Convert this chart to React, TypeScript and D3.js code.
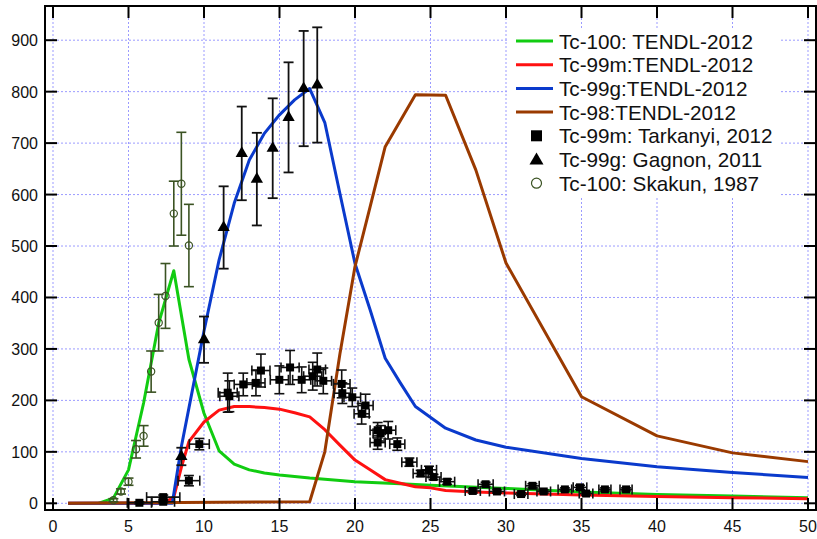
import React, { useEffect, useRef } from 'react';
import * as d3 from 'd3';

// TENDL-2012 curves
const tc100X = [3, 4, 5, 6, 7, 8, 9, 10, 11, 12, 13, 14, 15, 17, 20, 23, 25, 30, 35, 40, 45, 50];
const tc100Y = [0, 10, 65, 195, 350, 452, 280, 175, 102, 76, 65, 59, 55, 49, 42, 38, 35, 29, 22, 17, 14, 11];

const tc99mX = [1, 7, 7.5, 8, 8.5, 9, 10, 11, 12, 13, 14, 15, 16, 17, 18, 19, 20, 21, 22, 23, 24, 25, 26, 28, 30, 35, 40, 45, 50];
const tc99mY = [0, 0, 3, 12, 70, 120, 158, 181, 188, 188, 186, 183, 176, 168, 143, 113, 84, 65, 46, 39, 32, 30, 25, 22, 20, 16, 13, 11, 9];

const tc99gX = [1, 7.9, 8.5, 9, 10, 11, 12, 13, 14, 15, 16, 17, 18, 19, 20, 21, 22, 23, 24, 26, 28, 30, 35, 40, 45, 50];
const tc99gY = [0, 0, 110, 185, 335, 473, 583, 667, 719, 755, 784, 806, 740, 602, 466, 376, 282, 234, 188, 146, 123, 109, 87, 71, 60, 50];

const tc98X = [1, 17, 18, 19, 20, 21, 22, 24, 26, 28, 30, 35, 40, 45, 50];
const tc98Y = [0, 3, 100, 290, 460, 576, 693, 794, 793, 648, 467, 207, 131, 98, 81];

// Tc-99m: Tarkanyi, 2012
const tarkX = [5.72, 7.3, 7.3, 9.0, 9.69, 11.57, 11.68, 12.6, 13.44, 13.77, 14.99, 15.7, 16.47, 17.2, 17.5, 17.9, 19.12, 19.16, 19.82, 20.44, 20.7, 21.5, 21.5, 21.7, 22.2, 22.8, 23.6, 24.35, 24.9, 25.2, 26.1, 27.8, 28.65, 29.4, 31.0, 31.75, 32.5, 33.9, 34.9, 35.3, 36.55, 37.95];
const tarkY = [1, 12, 3, 44, 115, 215, 208, 231, 234, 258, 240, 264, 240, 247, 260, 238, 232, 214, 206, 174, 190, 142, 118, 136, 142, 115, 80, 58, 65, 51, 42, 24, 37, 23, 18, 34, 23, 27, 31, 19, 27, 27];
const tarkXErr = [0.8, 1.1, 0.75, 0.72, 0.66, 0.63, 0.63, 0.6, 0.6, 0.6, 0.6, 0.6, 0.6, 0.6, 0.55, 0.55, 0.55, 0.55, 0.55, 0.5, 0.5, 0.5, 0.5, 0.5, 0.5, 0.5, 0.5, 0.5, 0.5, 0.5, 0.5, 0.5, 0.5, 0.5, 0.45, 0.45, 0.45, 0.45, 0.45, 0.45, 0.4, 0.4];
const tarkYErr = [2, 4, 2, 10, 11, 38, 30, 22, 25, 32, 27, 33, 25, 27, 32, 25, 27, 20, 18, 20, 22, 15, 13, 15, 17, 12, 8, 6, 7, 5, 5, 4, 4, 3, 3, 4, 3, 3, 4, 3, 3, 3];

// Tc-99g: Gagnon, 2011
const gagX = [8.5, 10.0, 11.3, 12.5, 13.5, 14.55, 15.6, 16.6, 17.5];
const gagY = [91, 318, 536, 680, 630, 690, 750, 806, 813];
const gagErr = [17, 45, 80, 91, 90, 97, 107, 112, 112];

// Tc-100: Skakun, 1987
const skakX = [4.0, 4.5, 5.0, 5.5, 6.0, 6.5, 7.0, 7.45, 8.0, 8.5, 9.0];
const skakY = [6, 23, 42, 105, 131, 256, 351, 403, 563, 621, 501];
const skakErr = [3, 5, 7, 17, 20, 40, 55, 63, 63, 100, 80];

const xTicks = [0, 5, 10, 15, 20, 25, 30, 35, 40, 45, 50];
const yTicks = [0, 100, 200, 300, 400, 500, 600, 700, 800, 900];

const curveNames = ['Tc-100: TENDL-2012', 'Tc-99m:TENDL-2012', 'Tc-99g:TENDL-2012', 'Tc-98:TENDL-2012'];
const pointNames = ['Tc-99m: Tarkanyi, 2012', 'Tc-99g: Gagnon, 2011', 'Tc-100: Skakun, 1987'];

export default function App() {
    const ref = useRef<SVGSVGElement>(null);

    useEffect(() => {
        if (!ref.current) return;
        const svg = d3.select(ref.current);
        svg.selectAll('*').remove();

        const W = 817, H = 539;
        const frame = { left: 45, right: 816, top: 6, bottom: 510 };
        const font = 'Liberation Sans, Arial, sans-serif';

        const x = d3.scaleLinear().domain([0, 50]).range([53, 808]);
        const y = d3.scaleLinear().domain([0, 900]).range([503.3, 40.2]);

        svg.append('rect').attr('width', W).attr('height', H).attr('fill', '#fff');

        // grid
        const grid = svg.append('g').attr('stroke', '#9b9bff').attr('stroke-width', 1).attr('stroke-dasharray', '2,2');
        xTicks.forEach(t => {
            grid.append('line').attr('x1', x(t)).attr('x2', x(t)).attr('y1', frame.top).attr('y2', frame.bottom);
        });
        yTicks.forEach(t => {
            grid.append('line').attr('x1', frame.left).attr('x2', frame.right).attr('y1', y(t)).attr('y2', y(t));
        });

        // curves
        const line = d3.line<[number, number]>().x(d => x(d[0])).y(d => y(d[1]));
        const curves = [
            { xs: tc100X, ys: tc100Y, color: '#11cc11' },
            { xs: tc99mX, ys: tc99mY, color: '#ff1111' },
            { xs: tc99gX, ys: tc99gY, color: '#0a3acc' },
            { xs: tc98X, ys: tc98Y, color: '#9a3a00' },
        ];
        curves.forEach(c => {
            svg.append('path')
                .datum(c.xs.map((v, i) => [v, c.ys[i]] as [number, number]))
                .attr('fill', 'none')
                .attr('stroke', c.color)
                .attr('stroke-width', 3)
                .attr('stroke-linejoin', 'round')
                .attr('d', line);
        });

        // error bars helper
        const vbar = (g: any, xv: number, lo: number, hi: number, color: string) => {
            g.append('line').attr('x1', x(xv)).attr('x2', x(xv)).attr('y1', y(lo)).attr('y2', y(hi)).attr('stroke', color);
            [lo, hi].forEach(v => g.append('line').attr('x1', x(xv) - 5).attr('x2', x(xv) + 5).attr('y1', y(v)).attr('y2', y(v)).attr('stroke', color));
        };
        const hbar = (g: any, yv: number, lo: number, hi: number, color: string) => {
            g.append('line').attr('x1', x(lo)).attr('x2', x(hi)).attr('y1', y(yv)).attr('y2', y(yv)).attr('stroke', color);
            [lo, hi].forEach(v => g.append('line').attr('x1', x(v)).attr('x2', x(v)).attr('y1', y(yv) - 5).attr('y2', y(yv) + 5).attr('stroke', color));
        };

        // Skakun
        const sk = svg.append('g').attr('stroke-width', 1.6);
        skakX.forEach((v, i) => vbar(sk, v, skakY[i] - skakErr[i], skakY[i] + skakErr[i], '#3b5323'));
        skakX.forEach((v, i) => {
            sk.append('circle').attr('cx', x(v)).attr('cy', y(skakY[i])).attr('r', 3.6)
                .attr('fill', 'none').attr('stroke', '#3b5323').attr('stroke-width', 1.2);
        });

        // Tarkanyi
        const tk = svg.append('g').attr('stroke-width', 1.6);
        tarkX.forEach((v, i) => {
            vbar(tk, v, tarkY[i] - tarkYErr[i], tarkY[i] + tarkYErr[i], '#111');
            hbar(tk, tarkY[i], v - tarkXErr[i], v + tarkXErr[i], '#111');
        });
        tarkX.forEach((v, i) => {
            tk.append('rect').attr('x', x(v) - 4).attr('y', y(tarkY[i]) - 4).attr('width', 8).attr('height', 8).attr('fill', '#000');
        });

        // Gagnon
        const gg = svg.append('g').attr('stroke-width', 1.8);
        gagX.forEach((v, i) => vbar(gg, v, gagY[i] - gagErr[i], gagY[i] + gagErr[i], '#111'));
        const tri = d3.symbol().type(d3.symbolTriangle).size(65);
        gagX.forEach((v, i) => {
            gg.append('path').attr('d', tri).attr('transform', `translate(${x(v)},${y(gagY[i])})`).attr('fill', '#000');
        });

        // frame + ticks
        const ax = svg.append('g').attr('stroke', '#000');
        ax.append('rect').attr('x', frame.left).attr('y', frame.top)
            .attr('width', frame.right - frame.left).attr('height', frame.bottom - frame.top)
            .attr('fill', 'none').attr('stroke-width', 2);
        xTicks.forEach(t => {
            ax.append('line').attr('x1', x(t)).attr('x2', x(t)).attr('y1', frame.bottom).attr('y2', frame.bottom - 12).attr('stroke-width', 2);
            ax.append('line').attr('x1', x(t)).attr('x2', x(t)).attr('y1', frame.top).attr('y2', frame.top + 12).attr('stroke-width', 2);
        });
        yTicks.forEach(t => {
            ax.append('line').attr('x1', frame.left).attr('x2', frame.left + 12).attr('y1', y(t)).attr('y2', y(t)).attr('stroke-width', 2);
            ax.append('line').attr('x1', frame.right).attr('x2', frame.right - 12).attr('y1', y(t)).attr('y2', y(t)).attr('stroke-width', 2);
        });

        svg.append('g').selectAll('text').data(xTicks).enter().append('text')
            .attr('x', d => x(d)).attr('y', 532)
            .attr('text-anchor', 'middle')
            .style('font-family', font).style('font-size', '16px').attr('fill', '#111')
            .text(d => d);
        svg.append('g').selectAll('text').data(yTicks).enter().append('text')
            .attr('x', 38).attr('y', d => y(d) + 6)
            .attr('text-anchor', 'end')
            .style('font-family', font).style('font-size', '16px').attr('fill', '#111')
            .text(d => d);

        // legend
        const lg = svg.append('g');
        lg.append('rect').attr('x', 507).attr('y', 28).attr('width', 272).attr('height', 168).attr('fill', '#fff');
        const rowY = (i: number) => 41 + i * 23.7;
        curveNames.forEach((name, i) => {
            lg.append('line').attr('x1', 516).attr('x2', 553).attr('y1', rowY(i)).attr('y2', rowY(i))
                .attr('stroke', curves[i].color).attr('stroke-width', 3);
        });
        lg.append('rect').attr('x', 531).attr('y', rowY(4) - 5.5).attr('width', 11).attr('height', 11).attr('fill', '#000');
        lg.append('path').attr('d', d3.symbol().type(d3.symbolTriangle).size(85))
            .attr('transform', `translate(536.5,${rowY(5) + 1})`).attr('fill', '#000');
        lg.append('circle').attr('cx', 536.5).attr('cy', rowY(6)).attr('r', 5)
            .attr('fill', 'none').attr('stroke', '#3b5323').attr('stroke-width', 1.2);
        [...curveNames, ...pointNames].forEach((name, i) => {
            lg.append('text').attr('x', 559).attr('y', rowY(i) + 7.5)
                .style('font-family', font).style('font-size', '20.7px').attr('fill', '#111')
                .text(name);
        });
    }, []);

    return (
        <svg ref={ref} width={817} height={539}
            style={{ position: 'absolute', left: 0, top: 0, display: 'block' }} />
    );
}
